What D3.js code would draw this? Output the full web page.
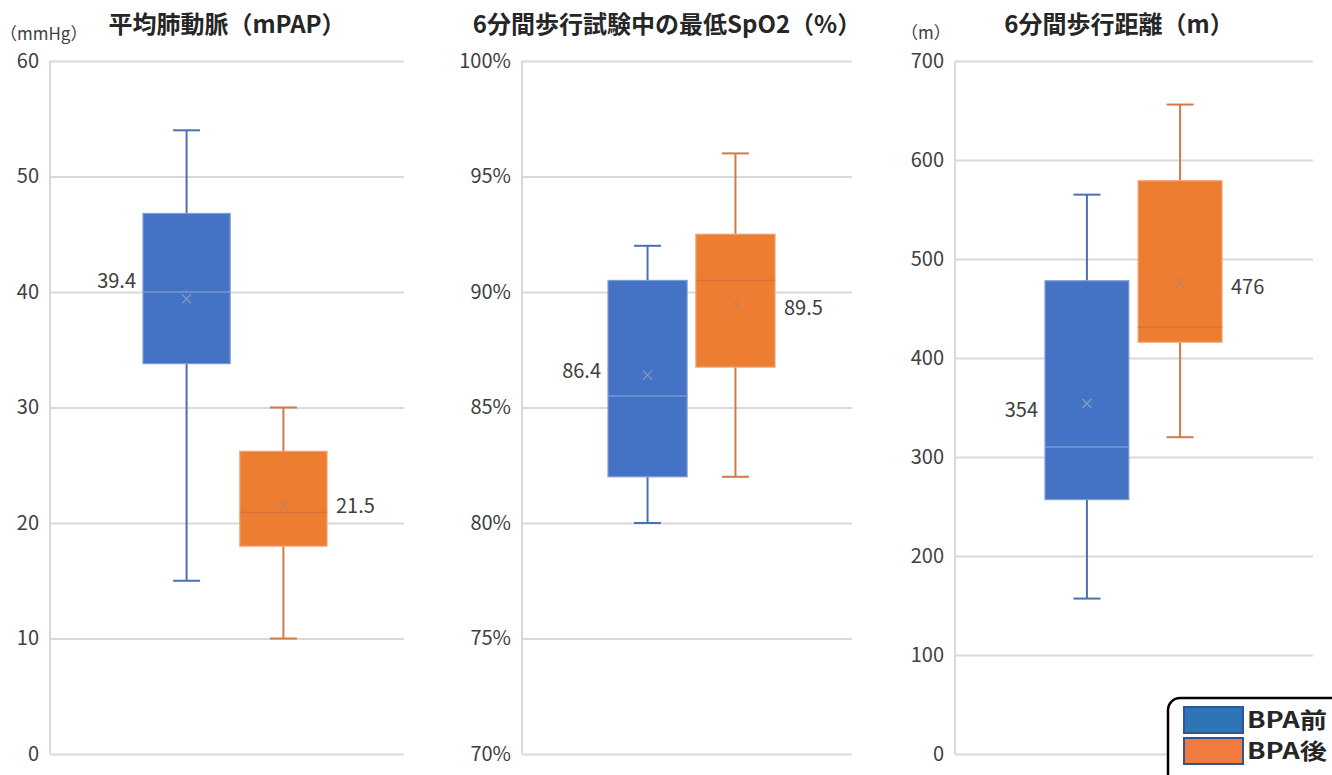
<!DOCTYPE html>
<html lang="ja">
<head>
<meta charset="utf-8">
<script src="https://cdn.jsdelivr.net/npm/d3@7"></script>
<style>
  html, body { margin: 0; padding: 0; background: #fff; }
  svg { display: block; font-family: "Noto Sans CJK JP", "Noto Sans", sans-serif; }
</style>
</head>
<body>
<svg id="chart" width="1332" height="775"></svg>
<script>
// ---- data ----
const titles = ["平均肺動脈（mPAP）", "6分間歩行試験中の最低SpO2（%）", "6分間歩行距離（m）"];
const units = ["（mmHg）", "", "（m）"];
const groups = ["BPA前", "BPA後"];
const yDomains = [[0, 60], [70, 100], [0, 700]];
const yTickValues = [
  [0, 10, 20, 30, 40, 50, 60],
  [70, 75, 80, 85, 90, 95, 100],
  [0, 100, 200, 300, 400, 500, 600, 700]
];
const tickSuffix = ["", "%", ""];
// per panel: [BPA前, BPA後]
const whiskerLow  = [[15, 10],     [80, 82],     [157, 320]];
const q1          = [[33.8, 18],   [82, 86.75],  [257, 416]];
const median      = [[40, 20.9],   [85.5, 90.5], [310, 431]];
const q3          = [[46.8, 26.2], [90.5, 92.5], [478, 579]];
const whiskerHigh = [[54, 30],     [92, 96],     [565, 656]];
const means       = [[39.4, 21.5], [86.4, 89.5], [354, 476]];
const meanLabels  = [["39.4", "21.5"], ["86.4", "89.5"], ["354", "476"]];

// ---- layout & style ----
const plotTop = 61, plotBottom = 754;
const panels = [
  { left: 50,  right: 404,  boxStart: 143, boxEnd: 327,  titleX: 227,  unitX: 0,   unitY: 40 },
  { left: 522, right: 852,  boxStart: 608, boxEnd: 775,  titleX: 667,  unitX: 0,   unitY: 0 },
  { left: 955, right: 1313, boxStart: 1045, boxEnd: 1222, titleX: 1119, unitX: 901, unitY: 39 }
];
const labelDy = [[-18, 0], [-4, 4], [6, 4]];
const fillColor   = { "BPA前": "#4472C4", "BPA後": "#ED7D31" };
const edgeColor   = { "BPA前": "#7E9BD3", "BPA後": "#F0A073" };
const whiskColor  = { "BPA前": "#4A70B0", "BPA後": "#D27A46" };
const medianColor = { "BPA前": "#7B99D2", "BPA後": "#D7733A" };
const meanColor   = { "BPA前": "#8B9CC0", "BPA後": "#B98560" };
const gridColor = "#D9D9D9";
const textColor = "#404040";

const svg = d3.select("#chart");

panels.forEach((p, i) => {
  const g = svg.append("g");
  const y = d3.scaleLinear().domain(yDomains[i]).range([plotBottom, plotTop]);
  const x = d3.scaleBand().domain(groups).range([p.boxStart, p.boxEnd]).paddingInner(0.1).paddingOuter(0);

  // gridlines + tick labels
  const axis = d3.axisLeft(y)
    .tickValues(yTickValues[i])
    .tickSize(-(p.right - p.left))
    .tickPadding(11)
    .tickFormat(d => d + tickSuffix[i]);
  const ag = g.append("g").attr("transform", `translate(${p.left},0)`).call(axis);
  ag.select(".domain").remove();
  ag.selectAll(".tick line").attr("stroke", gridColor).attr("stroke-width", 2);
  ag.selectAll(".tick text")
    .attr("fill", textColor)
    .attr("font-size", 20)
    .attr("font-family", "'Noto Sans CJK JP', sans-serif");

  // vertical axis line
  g.append("line")
    .attr("x1", p.left).attr("x2", p.left)
    .attr("y1", y(yDomains[i][1])).attr("y2", y(yDomains[i][0]))
    .attr("stroke", gridColor).attr("stroke-width", 2);

  // title
  g.append("text")
    .attr("x", p.titleX).attr("y", 33)
    .attr("text-anchor", "middle")
    .attr("font-size", 24).attr("font-weight", 700)
    .attr("fill", "#262626")
    .text(titles[i]);

  if (units[i]) {
    g.append("text")
      .attr("x", p.unitX).attr("y", p.unitY)
      .attr("font-size", 17).attr("fill", textColor)
      .text(units[i]);
  }

  groups.forEach((grp, j) => {
    const x0 = x(grp), bw = x.bandwidth(), cx = x0 + bw / 2;
    const cap = 27;
    const bg = g.append("g");

    // whiskers
    bg.append("line")
      .attr("x1", cx).attr("x2", cx)
      .attr("y1", y(whiskerHigh[i][j])).attr("y2", y(q3[i][j]))
      .attr("stroke", whiskColor[grp]).attr("stroke-width", 2);
    bg.append("line")
      .attr("x1", cx).attr("x2", cx)
      .attr("y1", y(q1[i][j])).attr("y2", y(whiskerLow[i][j]))
      .attr("stroke", whiskColor[grp]).attr("stroke-width", 2);
    [whiskerHigh[i][j], whiskerLow[i][j]].forEach(v => {
      bg.append("line")
        .attr("x1", cx - cap / 2).attr("x2", cx + cap / 2)
        .attr("y1", y(v)).attr("y2", y(v))
        .attr("stroke", whiskColor[grp]).attr("stroke-width", 2);
    });

    // box
    bg.append("rect")
      .attr("x", x0).attr("width", bw)
      .attr("y", y(q3[i][j])).attr("height", y(q1[i][j]) - y(q3[i][j]))
      .attr("fill", fillColor[grp])
      .attr("stroke", edgeColor[grp]).attr("stroke-width", 1.2);

    // median
    bg.append("line")
      .attr("x1", x0).attr("x2", x0 + bw)
      .attr("y1", y(median[i][j])).attr("y2", y(median[i][j]))
      .attr("stroke", medianColor[grp]).attr("stroke-width", 1.5);

    // mean marker
    const my = y(means[i][j]), s = 4.5;
    bg.append("path")
      .attr("d", `M${cx - s},${my - s}L${cx + s},${my + s}M${cx - s},${my + s}L${cx + s},${my - s}`)
      .attr("stroke", meanColor[grp]).attr("stroke-width", 1.2).attr("fill", "none");

    // mean value label
    bg.append("text")
      .attr("x", j === 0 ? x0 - 7 : x0 + bw + 9)
      .attr("y", my + labelDy[i][j])
      .attr("dy", "0.35em")
      .attr("text-anchor", j === 0 ? "end" : "start")
      .attr("font-size", 20).attr("fill", textColor)
      .text(meanLabels[i][j]);
  });
});

// legend
const lg = svg.append("g");
lg.append("rect")
  .attr("x", 1168).attr("y", 698).attr("width", 200).attr("height", 110)
  .attr("rx", 12).attr("fill", "#fff")
  .attr("stroke", "#000").attr("stroke-width", 2.5);
const legendFill = { "BPA前": "#2E75B6", "BPA後": "#F07B3F" };
groups.forEach((grp, k) => {
  const yy = 707 + k * 31;
  lg.append("rect")
    .attr("x", 1184).attr("y", yy).attr("width", 59).attr("height", 26)
    .attr("fill", legendFill[grp])
    .attr("stroke", "#2F5597").attr("stroke-width", 2);
  lg.append("text")
    .attr("x", 1247).attr("y", yy + 13).attr("dy", "0.36em")
    .attr("font-size", 22).attr("font-weight", 700).attr("fill", "#262626")
    .attr("textLength", 80).attr("lengthAdjust", "spacingAndGlyphs")
    .text(grp);
});
</script>
</body>
</html>
